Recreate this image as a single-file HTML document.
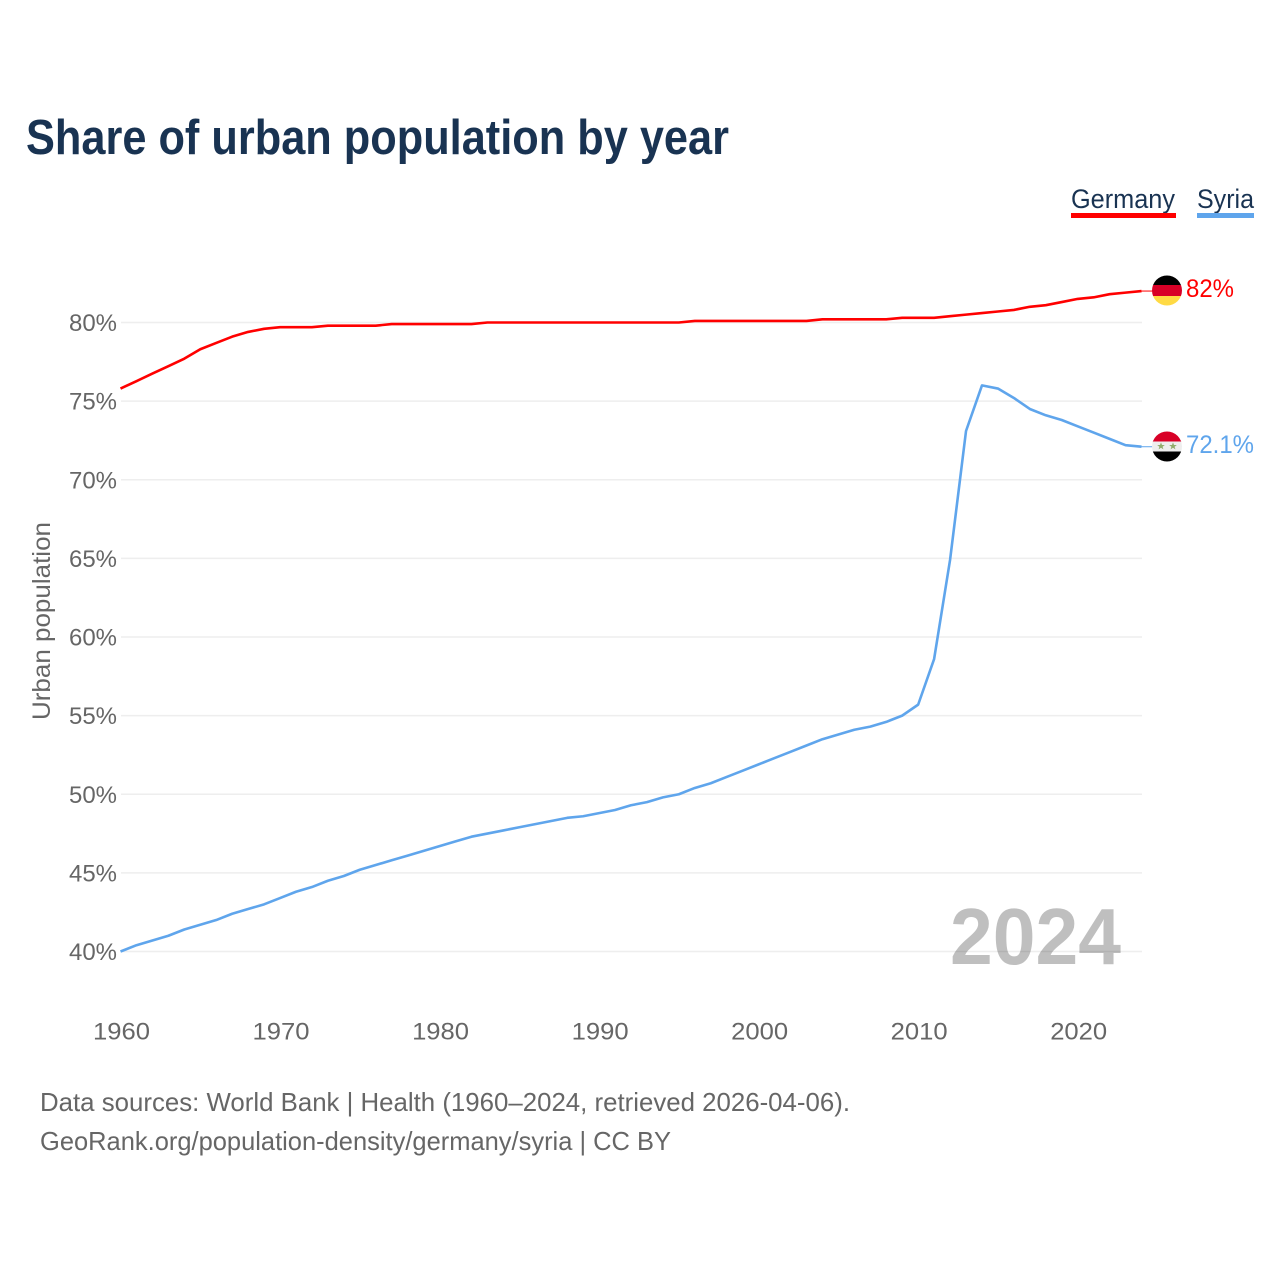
<!DOCTYPE html>
<html lang="en">
<head>
<meta charset="utf-8">
<title>Share of urban population by year</title>
<style>
html,body{margin:0;padding:0;background:#fff;width:1280px;height:1280px;overflow:hidden}
svg{display:block}
text{font-family:"Liberation Sans",sans-serif}
</style>
</head>
<body>
<svg id="chart" xmlns="http://www.w3.org/2000/svg" width="1280" height="1280" viewBox="0 0 1280 1280">
  <text x="26" y="154" font-size="49" font-weight="700" fill="#193352" textLength="703" lengthAdjust="spacingAndGlyphs">Share of urban population by year</text>

  <g>
    <g>
      <text x="1071" y="208" font-size="27" fill="#193352" textLength="104" lengthAdjust="spacingAndGlyphs">Germany</text>
      <rect x="1071" y="213" width="105" height="5" fill="#ff0000"/>
    </g>
    <g>
      <text x="1197" y="208" font-size="27" fill="#193352" textLength="57" lengthAdjust="spacingAndGlyphs">Syria</text>
      <rect x="1197" y="213" width="57" height="5" fill="#5fa5ec"/>
    </g>
  </g>

  <g id="grid"></g>
  <g id="yticks"></g>
  <g id="xticks"></g>

  <text transform="translate(50,621) rotate(-90)" text-anchor="middle" font-size="25" fill="#666666" textLength="198" lengthAdjust="spacingAndGlyphs">Urban population</text>

  <text x="950" y="964" font-size="80" font-weight="700" fill="#000000" fill-opacity="0.25" textLength="171" lengthAdjust="spacingAndGlyphs">2024</text>

  <g id="series"></g>

  <g id="flag-de">
    <clipPath id="clip-de"><circle cx="1167" cy="290.5" r="15"/></clipPath>
    <g clip-path="url(#clip-de)">
      <rect x="1152" y="275" width="30" height="10.5" fill="#000000"/>
      <rect x="1152" y="285" width="30" height="11" fill="#d80027"/>
      <rect x="1152" y="296" width="30" height="10" fill="#ffda44"/>
    </g>
  </g>
  <g id="flag-sy">
    <clipPath id="clip-sy"><circle cx="1167" cy="446.5" r="15"/></clipPath>
    <g clip-path="url(#clip-sy)">
      <rect x="1152" y="431" width="30" height="11" fill="#d80027"/>
      <rect x="1152" y="441.5" width="30" height="10.5" fill="#eeeeee"/>
      <rect x="1152" y="451.5" width="30" height="10.5" fill="#000000"/>
      <polygon points="1161,442.4 1162,445 1164.8,445 1162.6,446.7 1163.4,449.4 1161,447.8 1158.6,449.4 1159.4,446.7 1157.2,445 1160,445" fill="#91ad6c"/>
      <polygon points="1173,442.4 1174,445 1176.8,445 1174.6,446.7 1175.4,449.4 1173,447.8 1170.6,449.4 1171.4,446.7 1169.2,445 1172,445" fill="#91ad6c"/>
    </g>
  </g>

  <text id="end-de" x="1186" y="297" font-size="25" fill="#ff0000" textLength="48" lengthAdjust="spacingAndGlyphs">82%</text>
  <text id="end-sy" x="1186" y="453" font-size="25" fill="#5fa5ec" textLength="68" lengthAdjust="spacingAndGlyphs">72.1%</text>

  <text x="40" y="1111" font-size="26" fill="#666666" textLength="810" lengthAdjust="spacingAndGlyphs">Data sources: World Bank | Health (1960–2024, retrieved 2026-04-06).</text>
  <text x="40" y="1150" font-size="26" fill="#666666" textLength="631" lengthAdjust="spacingAndGlyphs">GeoRank.org/population-density/germany/syria | CC BY</text>
</svg>
<script>
const startYear = 1960;
const endYear = 2024;
const xTickYears = [1960, 1970, 1980, 1990, 2000, 2010, 2020];
const yTickValues = [40, 45, 50, 55, 60, 65, 70, 75, 80];
const germanyValues = [
  75.8, 76.27, 76.75, 77.22, 77.7, 78.3, 78.7, 79.1, 79.4, 79.6,
  79.7, 79.7, 79.7, 79.8, 79.8, 79.8, 79.8, 79.9, 79.9, 79.9,
  79.9, 79.9, 79.9, 80.0, 80.0, 80.0, 80.0, 80.0, 80.0, 80.0,
  80.0, 80.0, 80.0, 80.0, 80.0, 80.0, 80.1, 80.1, 80.1, 80.1,
  80.1, 80.1, 80.1, 80.1, 80.2, 80.2, 80.2, 80.2, 80.2, 80.3,
  80.3, 80.3, 80.4, 80.5, 80.6, 80.7, 80.8, 81.0, 81.1, 81.3,
  81.5, 81.6, 81.8, 81.9, 82.0
];
const syriaValues = [
  40.0, 40.4, 40.7, 41.0, 41.4, 41.7, 42.0, 42.4, 42.7, 43.0,
  43.4, 43.8, 44.1, 44.5, 44.8, 45.2, 45.5, 45.8, 46.1, 46.4,
  46.7, 47.0, 47.3, 47.5, 47.7, 47.9, 48.1, 48.3, 48.5, 48.6,
  48.8, 49.0, 49.3, 49.5, 49.8, 50.0, 50.4, 50.7, 51.1, 51.5,
  51.9, 52.3, 52.7, 53.1, 53.5, 53.8, 54.1, 54.3, 54.6, 55.0,
  55.7, 58.6, 64.9, 73.1, 76.0, 75.8, 75.2, 74.5, 74.1, 73.8,
  73.4, 73.0, 72.6, 72.2, 72.1
];

const SVGNS = 'http://www.w3.org/2000/svg';
function x(year) { return 120.5 + (year - startYear) * (1141.5 - 120.5) / (endYear - startYear); }
function y(value) { return 951.5 - (value - 40) * (951.5 - 322.5) / 40; }
function make(tag, attrs, parent) {
  const el = document.createElementNS(SVGNS, tag);
  for (const k in attrs) el.setAttribute(k, attrs[k]);
  parent.appendChild(el);
  return el;
}

const gridG = document.getElementById('grid');
const yG = document.getElementById('yticks');
const xG = document.getElementById('xticks');
const seriesG = document.getElementById('series');

yTickValues.forEach(function (v) {
  const line = make('line', { x1: 121, x2: 1142, y1: y(v), y2: y(v), stroke: '#eeeeee', 'stroke-width': 1.6 }, gridG);
  
  
  const t = make('text', { x: 117, y: y(v) + 8.5, 'text-anchor': 'end', 'font-size': 24.5, fill: '#666666', textLength: 48, lengthAdjust: 'spacingAndGlyphs' }, yG);
  t.textContent = v + '%';
  
  
});

xTickYears.forEach(function (yr) {
  const t = make('text', { x: x(yr) + 1, y: 1039.5, 'text-anchor': 'middle', 'font-size': 24.5, fill: '#666666', textLength: 57, lengthAdjust: 'spacingAndGlyphs' }, xG);
  t.textContent = yr;
  
  
});

function drawSeries(values, color, name) {
  const pts = values.map(function (v, i) { return x(startYear + i).toFixed(2) + ',' + y(v).toFixed(2); }).join(' ');
  const line = make('polyline', { points: pts, fill: 'none', stroke: color, 'stroke-width': 2.6, 'stroke-linejoin': 'round' }, seriesG);
  
  
  const last = values[values.length - 1];
  const conn = make('line', { x1: x(endYear), x2: 1153, y1: y(last), y2: y(last), stroke: color, 'stroke-width': 1 }, seriesG);
  
  
}
drawSeries(germanyValues, '#ff0000', 'germany-line');
drawSeries(syriaValues, '#5fa5ec', 'syria-line');
</script>
</body>
</html>
